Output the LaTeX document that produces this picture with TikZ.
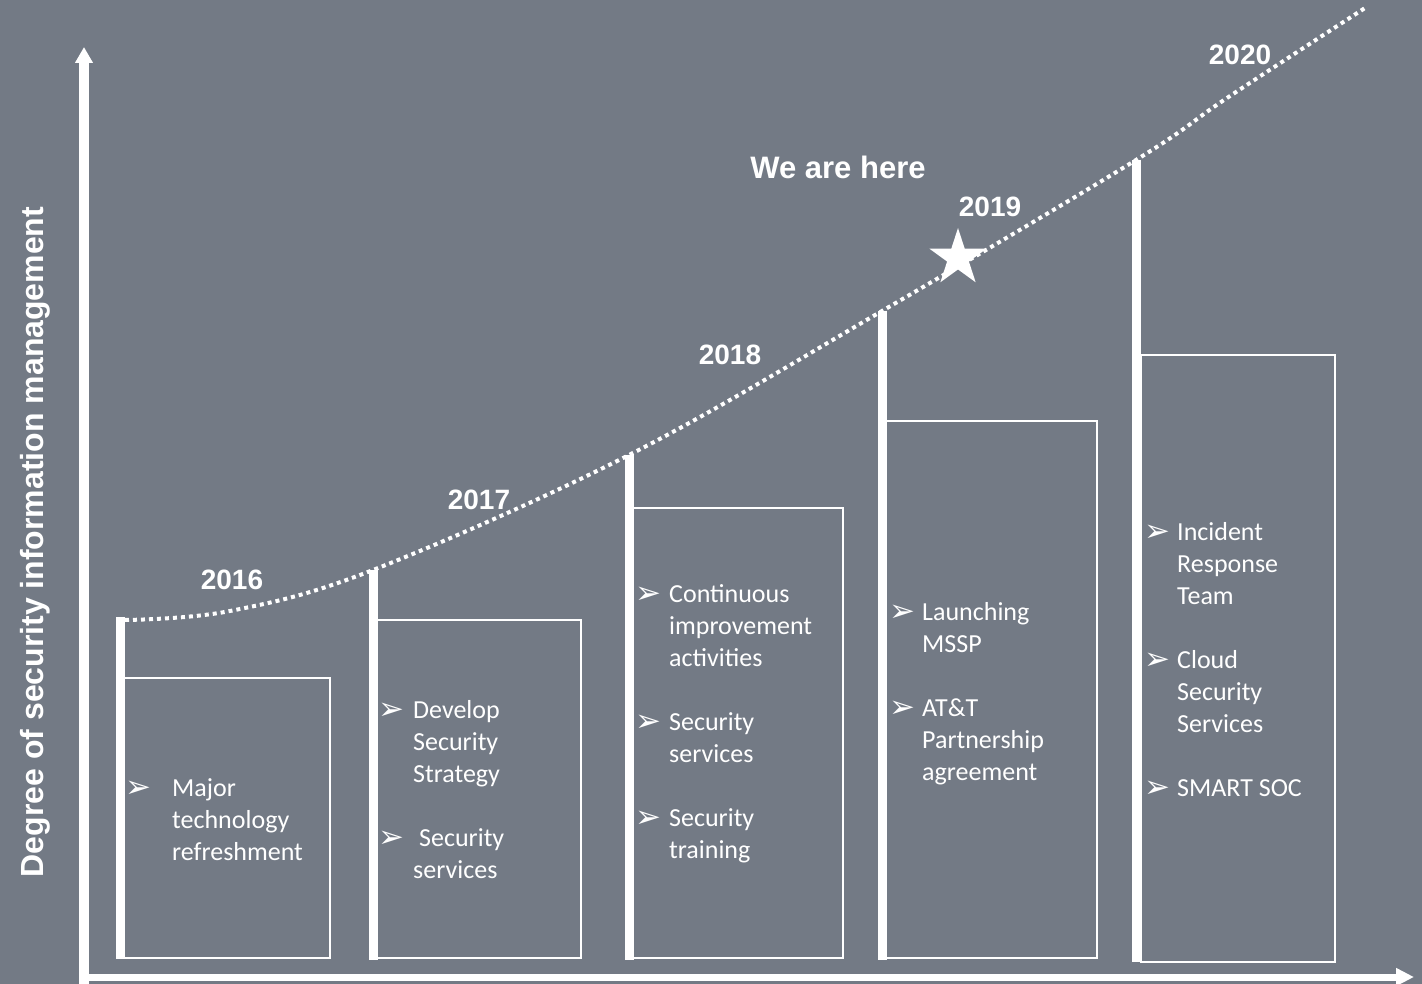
\documentclass[tikz,border=0pt]{standalone}
\usepackage{fontspec}
\setmainfont{Carlito}
\newfontfamily\headfont{Liberation Sans}
\newfontfamily\symfont{DejaVu Sans}
\usepackage{tikz}
\usetikzlibrary{arrows.meta}
\usetikzlibrary{shapes.geometric}
\usetikzlibrary{positioning}

\definecolor{slate}{RGB}{115,122,133}
\newcommand{\bul}{\raisebox{-1pt}{\symfont\fontsize{31}{31}\selectfont ➢}}

\tikzset{
  year/.style={text=white,inner sep=0pt,font=\headfont\bfseries\fontsize{28}{32}\selectfont},
  bar/.style={draw=white,line width=9pt},
  stepbox/.style={draw=white,line width=2pt},
  items/.style={text=white,inner sep=0pt,anchor=base west,font=\fontsize{26}{32}\selectfont},
  trend/.style={draw=white,line width=4pt,dash pattern=on 4pt off 4pt},
}

\begin{document}
\begin{tikzpicture}[x=1pt,y=-1pt,line cap=butt,line join=miter]
        \fill[slate] (0,0) rectangle (1422,984);
        \useasboundingbox (0,0) rectangle (1422,984);
        % axes
        \coordinate (origin) at (84,984);
        \coordinate (ytop) at (84,47);
        \coordinate (xstart) at (89,977);
        \coordinate (xend) at (1414,977);
        \draw[white,line width=10pt,-{Triangle[width=17pt,length=16pt]}] (origin) -- (ytop);
        \draw[white,line width=7pt,-{Triangle[width=17pt,length=18pt]}] (xstart) -- (xend);
        \node[year,rotate=90,font=\headfont\bfseries\fontsize{32}{36}\selectfont] (ylabel) at (35,542) {Degree of security information management};
        % 
        \draw[bar] (120,617) coordinate (top1) -- (120,959);
        \draw[stepbox] (124,678) rectangle (330,958);
        \node[items] (list1) at (125,796) {\begin{tabular}[t]{@{}p{47pt}@{}l@{}}
          \bul & Major\\ & technology\\ & refreshment\end{tabular}};
        % 
        \draw[bar] (373,570) coordinate (top2) -- (373,960);
        \draw[stepbox] (377,620) rectangle (581,958);
        \node[items] (list2) at (378,718) {\begin{tabular}[t]{@{}p{35pt}@{}l@{}}
          \bul & Develop\\ & Security\\ & Strategy\\ & \\
          \bul & \hspace{6pt}Security\\ & services\end{tabular}};
        % 
        \draw[bar] (629,455) coordinate (top3) -- (629,960);
        \draw[stepbox] (633,508) rectangle (843,958);
        \node[items] (list3) at (635,602) {\begin{tabular}[t]{@{}p{34pt}@{}l@{}}
          \bul & Continuous\\ & improvement\\ & activities\\ & \\
          \bul & Security\\ & services\\ & \\
          \bul & Security\\ & training\end{tabular}};
        % 
        \draw[bar] (882,311) coordinate (top4) -- (882,960);
        \draw[stepbox] (886,421) rectangle (1097,958);
        \node[items] (list4) at (889,620) {\begin{tabular}[t]{@{}p{33pt}@{}l@{}}
          \bul & Launching\\ & MSSP\\ & \\
          \bul & AT\&T\\ & Partnership\\ & agreement\end{tabular}};
        % 
        \draw[bar] (1136,160) coordinate (top5) -- (1136,962);
        \draw[stepbox] (1141,355) rectangle (1335,962);
        \node[items] (list5) at (1144,540) {\begin{tabular}[t]{@{}p{33pt}@{}l@{}}
          \bul & Incident\\ & Response\\ & Team\\ & \\
          \bul & Cloud\\ & Security\\ & Services\\ & \\
          \bul & SMART SOC\end{tabular}};
        % growth curve
        \coordinate (c0) at (125,620);
        \coordinate (c1) at (230,611);
        \coordinate (c6) at (1365,8);
        \draw[trend] plot[smooth,tension=0.6] coordinates {(c0) (c1) (top2) (top3) (top4) (top5) (1227,98) (c6)};
        \node[star,star points=5,star point ratio=2.618,minimum size=60pt,fill=white,inner sep=0pt] (star) at (958,258) {};
        % 
        \node[year] (y2016) at (232,580) {2016};
        \node[year] (y2017) at (479,500) {2017};
        \node[year] (y2018) at (730,355) {2018};
        \node[year] (y2019) at (990,207) {2019};
        \node[year] (y2020) at (1240,55) {2020};
        \node[year,font=\headfont\bfseries\fontsize{31}{36}\selectfont] (here) at (838,167) {We are here};
      \end{tikzpicture}
\end{document}
